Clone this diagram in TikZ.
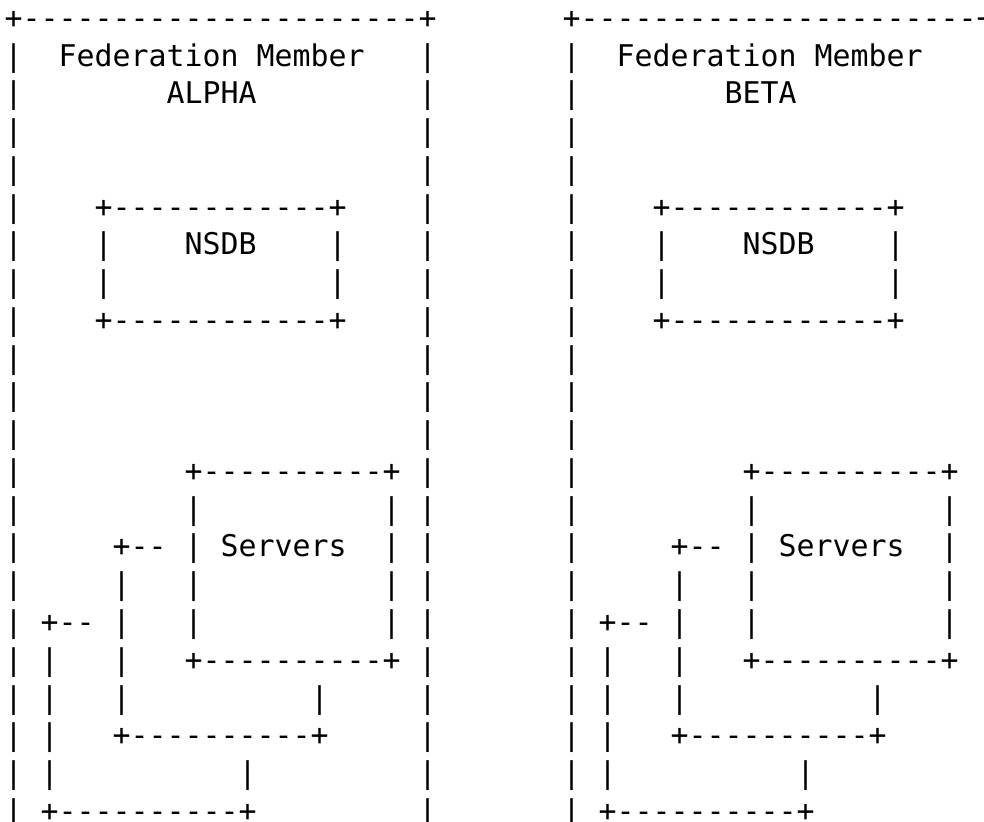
\documentclass[tikz,border=0pt]{standalone}
\usepackage{fontspec}
\setmonofont{DejaVu Sans Mono}
\tikzset{asc/.style={font=\ttfamily\fontsize{14.95}{18}\selectfont, inner sep=0pt, anchor=base west}}
\begin{document}
\begin{tikzpicture}[x=9pt,y=-18.875pt]
	\useasboundingbox (-2.15pt,14.25pt) rectangle (489.85pt,-396.75pt);
	\foreach \name/\dx/\id in {ALPHA/0/a,BETA/31/b}{
	\begin{scope}[xshift=\dx*9pt]
	\node[asc] (\id0) at (0,0) {+----------------------+};
	\node[asc] (\id1) at (0,1) {|~~Federation~Member~~~|};
	\node[asc] (\id2) at (0,2) {|~~~~~~~~\name};
	\node[asc] (\id2e) at (23,2) {|};
	\foreach \r in {3,4,9,10,11}
		\node[asc] (\id\r) at (0,\r) {|~~~~~~~~~~~~~~~~~~~~~~|};
	% NSDB
	\node[asc] (\id5) at (0,5) {|~~~~+------------+~~~~|};
	\node[asc] (\id6) at (0,6) {|~~~~|~~~~NSDB~~~~|~~~~|};
	\node[asc] (\id7) at (0,7) {|~~~~|~~~~~~~~~~~~|~~~~|};
	\node[asc] (\id8) at (0,8) {|~~~~+------------+~~~~|};
	% Servers
	\node[asc] (\id12) at (0,12) {|~~~~~~~~~+----------+~|};
	\node[asc] (\id13) at (0,13) {|~~~~~~~~~|~~~~~~~~~~|~|};
	\node[asc] (\id14) at (0,14) {|~~~~~+--~|~Servers~~|~|};
	\node[asc] (\id15) at (0,15) {|~~~~~|~~~|~~~~~~~~~~|~|};
	\node[asc] (\id16) at (0,16) {|~+--~|~~~|~~~~~~~~~~|~|};
	\node[asc] (\id17) at (0,17) {|~|~~~|~~~+----------+~|};
	\node[asc] (\id18) at (0,18) {|~|~~~|~~~~~~~~~~|~~~~~|};
	\node[asc] (\id19) at (0,19) {|~|~~~+----------+~~~~~|};
	\node[asc] (\id20) at (0,20) {|~|~~~~~~~~~~|~~~~~~~~~|};
	\node[asc] (\id21) at (0,21) {|~+----------+~~~~~~~~~|};
	\end{scope}
	}
\end{tikzpicture}
\end{document}
